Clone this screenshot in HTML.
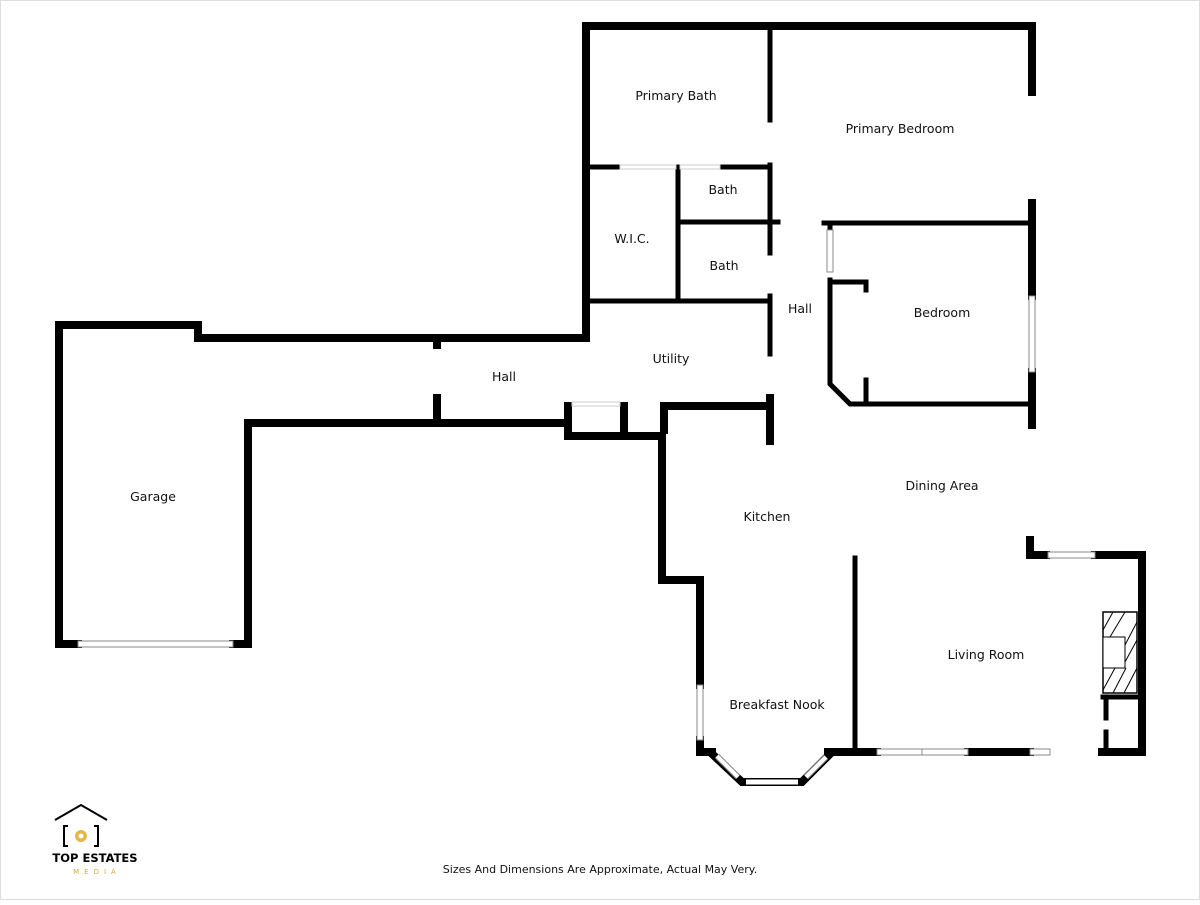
<!DOCTYPE html>
<html><head><style>
body{margin:0;background:#fff;}
svg text{font-family:"DejaVu Sans","Liberation Sans",sans-serif;font-size:12.5px;fill:#111;text-anchor:middle;}
</style></head><body>
<svg width="1200" height="900" viewBox="0 0 1200 900" xmlns="http://www.w3.org/2000/svg">
<rect x="0.5" y="0.5" width="1199" height="899" fill="#fff" stroke="#ddd"/>
<g fill="none" stroke="#000" stroke-width="8" stroke-linecap="square" stroke-linejoin="miter">
<polyline points="586,338 586,26 1032,26 1032,92"/>
<line x1="1032" y1="203" x2="1032" y2="296"/>
<line x1="1032" y1="372" x2="1032" y2="425"/>
<polyline points="1030,540 1030,555 1046,555"/>
<polyline points="200,338 586,338"/>
<polyline points="78,644 59,644 59,325 198,325 198,338"/>
<polyline points="233,644 248,644 248,423 568,423"/>
<line x1="437" y1="338" x2="437" y2="345"/>
<line x1="437" y1="398" x2="437" y2="420"/>
<polyline points="568,406 568,436 662,436 662,580 700,580 700,685"/>
<line x1="624" y1="406" x2="624" y2="436"/>
<polyline points="664,430 664,406 770,406"/>
<line x1="770" y1="398" x2="770" y2="441"/>
<polyline points="700,740 700,752 712,752"/>
<line x1="828" y1="752" x2="877" y2="752"/>
<line x1="968" y1="752" x2="1030" y2="752"/>
<line x1="1102" y1="752" x2="1142" y2="752"/>
<polyline points="1095,555 1142,555 1142,752"/>
</g>
<g fill="none" stroke="#000" stroke-width="5" stroke-linecap="square">
<line x1="586" y1="167" x2="620" y2="167"/>
<line x1="676" y1="167" x2="680" y2="167"/>
<line x1="720" y1="167" x2="770" y2="167"/>
<line x1="678" y1="167" x2="678" y2="300"/>
<line x1="678" y1="222" x2="778" y2="222"/>
<line x1="586" y1="301" x2="770" y2="301"/>
<line x1="770" y1="26" x2="770" y2="120"/>
<line x1="770" y1="165" x2="770" y2="253"/>
<line x1="770" y1="296" x2="770" y2="354"/>
<line x1="824" y1="223" x2="1032" y2="223"/>
<line x1="830" y1="223" x2="830" y2="230"/>
<polyline points="830,280 830,384 850,404 1032,404" stroke-linejoin="miter"/>
<polyline points="830,282 866,282 866,290"/>
<line x1="866" y1="380" x2="866" y2="404"/>
<line x1="855" y1="558" x2="855" y2="750"/>
<line x1="1103" y1="697" x2="1142" y2="697"/>
<line x1="1106" y1="700" x2="1106" y2="718"/>
<line x1="1106" y1="732" x2="1106" y2="750"/>
</g>
<!-- bay -->
<g fill="none" stroke-linecap="butt">
<polyline points="710,752 742,782 802,782 832,752" stroke="#000" stroke-width="8" stroke-linejoin="miter"/>
<line x1="717" y1="756" x2="738" y2="777" stroke="#888" stroke-width="6"/>
<line x1="717" y1="756" x2="738" y2="777" stroke="#fff" stroke-width="4"/>
<line x1="746" y1="782" x2="798" y2="782" stroke="#888" stroke-width="6"/>
<line x1="746" y1="782" x2="798" y2="782" stroke="#fff" stroke-width="4"/>
<line x1="806" y1="777" x2="826" y2="757" stroke="#888" stroke-width="6"/>
<line x1="806" y1="777" x2="826" y2="757" stroke="#fff" stroke-width="4"/>
</g>
<g fill="#fff" stroke="#888" stroke-width="1">
<rect x="78" y="641" width="155" height="6"/>
<rect x="1029" y="296" width="6" height="76"/>
<rect x="697" y="685" width="6" height="55"/>
<rect x="877" y="749" width="91" height="6"/>
<line x1="922" y1="749" x2="922" y2="755"/>
<rect x="1030" y="749" width="20" height="6"/>
<rect x="1048" y="552" width="47" height="6"/>
<rect x="827" y="230" width="6" height="42"/>
<rect x="620" y="165" width="56" height="4" stroke="#ccc"/>
<rect x="680" y="165" width="40" height="4" stroke="#ccc"/>
<rect x="572" y="402" width="48" height="4" stroke="#ccc"/>
</g>
<rect x="1103" y="612" width="34" height="81" fill="#fff" stroke="#000" stroke-width="1.5"/>
<g stroke="#000" stroke-width="1"><line x1="1103" y1="630" x2="1113" y2="612"/><line x1="1110" y1="637" x2="1125" y2="612"/><line x1="1125" y1="645" x2="1137" y2="622"/><line x1="1125" y1="662" x2="1137" y2="640"/><line x1="1103" y1="690" x2="1115" y2="668"/><line x1="1113" y1="693" x2="1126" y2="668"/><line x1="1124" y1="693" x2="1137" y2="668"/></g>
<rect x="1103" y="637" width="22" height="31" fill="#fff" stroke="#000" stroke-width="1"/>
<text x="676" y="100">Primary Bath</text>
<text x="900" y="133">Primary Bedroom</text>
<text x="723" y="194">Bath</text>
<text x="632" y="243">W.I.C.</text>
<text x="724" y="270">Bath</text>
<text x="800" y="313">Hall</text>
<text x="942" y="317">Bedroom</text>
<text x="671" y="363">Utility</text>
<text x="504" y="381">Hall</text>
<text x="153" y="501">Garage</text>
<text x="942" y="490">Dining Area</text>
<text x="767" y="521">Kitchen</text>
<text x="986" y="659">Living Room</text>
<text x="777" y="709">Breakfast Nook</text>
<text x="600" y="873" style="font-size:11px">Sizes And Dimensions Are Approximate, Actual May Very.</text>
<polyline points="55,820 81,805 107,820" fill="none" stroke="#000" stroke-width="2"/>
<path d="M68,826 h-4 v20 h4 M94,826 h4 v20 h-4" fill="none" stroke="#000" stroke-width="2"/>
<circle cx="81" cy="836" r="6" fill="#e5b64a"/><circle cx="81" cy="836" r="2.5" fill="#fff"/>
<text x="95" y="862" style="font-size:11.5px;font-weight:bold;fill:#000">TOP ESTATES</text>
<text x="97" y="874" style="font-size:7px;letter-spacing:5px;fill:#d4a840">MEDIA</text>
</svg>
</body></html>
